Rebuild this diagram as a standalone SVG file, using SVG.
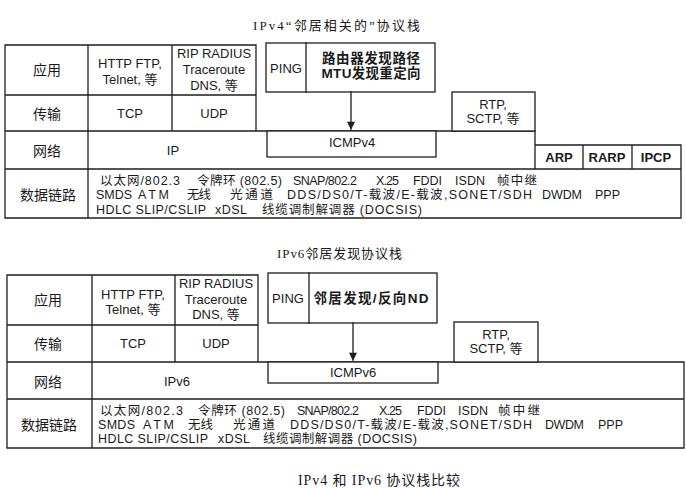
<svg xmlns="http://www.w3.org/2000/svg" width="686" height="488" viewBox="0 0 686 488">
<defs>
<style>
.ln{stroke:#1e1e1e;stroke-width:1.3;fill:none;stroke-linecap:square}
.bx{stroke:#1e1e1e;stroke-width:1.3;fill:#fff}
text{font-family:"Liberation Sans","Noto Sans CJK SC",sans-serif;fill:#1a1a1a;dominant-baseline:central}
.c{text-anchor:middle}
.t{font-size:13px}
.s{font-size:12.5px}
.lb{font-size:14px;text-anchor:middle}
.b{font-weight:bold;font-size:13.5px;text-anchor:middle}
.ttl{font-family:"Liberation Serif","Noto Sans CJK SC",serif;font-size:13px}
.cap{font-family:"Liberation Serif","Noto Sans CJK SC",serif;font-size:14px}
</style>
<marker id="ah" viewBox="0 0 10 10" refX="9" refY="5" markerWidth="10" markerHeight="8" orient="auto" markerUnits="userSpaceOnUse">
<path d="M0,0 L10,5 L0,10 z" fill="#1e1e1e"/>
</marker>
</defs>
<rect width="686" height="488" fill="#fff"/>

<!-- ================= TOP: IPv4 ================= -->
<text id="title1" class="ttl" x="253" y="25" textLength="167" lengthAdjust="spacing">IPv4“邻居相关的”协议栈</text>

<g id="v4-grid">
<path class="ln" d="M5,45 H256 M5,95 H256 M5,131 H535 M5,169 H681 M5,218 H681 M5,45 V218 M88,45 V218 M172,45 V131 M256,45 V131 M535,131 V169 M535,145 H681 M583,145 V169 M632,145 V169 M681,145 V218"/>
</g>
<g id="v4-labels">
<text class="lb" x="47" y="70">应用</text>
<text class="lb" x="47" y="114">传输</text>
<text class="lb" x="47" y="151">网络</text>
<text class="lb" x="48" y="195">数据链路</text>
</g>
<g id="v4-http"><text class="t c" x="130" y="63">HTTP FTP,</text><text class="t c" x="130" y="79">Telnet, 等</text></g>
<g id="v4-rip"><text class="t c" x="214" y="53">RIP RADIUS</text><text class="t c" x="214" y="69">Traceroute</text><text class="t c" x="214" y="85">DNS, 等</text></g>
<g id="v4-tcp"><text class="t c" x="130" y="113">TCP</text></g>
<g id="v4-udp"><text class="t c" x="214" y="113">UDP</text></g>
<g id="v4-ip"><text class="t c" x="173" y="150">IP</text></g>
<g id="v4-ping">
<rect class="bx" x="266" y="43" width="169" height="49"/>
<path class="ln" d="M306,43 V92"/>
<text class="t c" x="286" y="68">PING</text>
<text class="b" x="371" y="58.5" textLength="98" lengthAdjust="spacing">路由器发现路径</text>
<text class="b" x="371" y="73.5" textLength="99" lengthAdjust="spacing">MTU发现重定向</text>
</g>
<g id="v4-icmp">
<rect class="bx" x="267" y="131" width="169" height="26"/>
<text class="t c" x="352" y="142">ICMPv4</text>
</g>
<g id="v4-rtp">
<rect class="bx" x="452" y="92" width="83" height="39"/>
<text class="t c" x="493" y="104">RTP,</text>
<text class="t c" x="493" y="118">SCTP, 等</text>
</g>
<g id="v4-arp"><text class="t c" x="559" y="157" font-weight="bold" font-size="12">ARP</text></g>
<g id="v4-rarp"><text class="t c" x="607" y="157" font-weight="bold" font-size="12">RARP</text></g>
<g id="v4-ipcp"><text class="t c" x="656" y="157" font-weight="bold" font-size="12">IPCP</text></g>
<g id="v4-link">
<text class="s" x="100" y="181" textLength="80" lengthAdjust="spacing">以太网/802.3</text>
<text class="s" x="197" y="181" textLength="85" lengthAdjust="spacing">令牌环 (802.5)</text>
<text class="s" x="293" y="181" textLength="64" lengthAdjust="spacing">SNAP/802.2</text>
<text class="s" x="376" y="181" textLength="23" lengthAdjust="spacing">X.25</text>
<text class="s" x="413" y="181" textLength="29" lengthAdjust="spacing">FDDI</text>
<text class="s" x="455" y="181" textLength="30" lengthAdjust="spacing">ISDN</text>
<text class="s" x="497" y="181" textLength="40" lengthAdjust="spacing">帧中继</text>
<text class="s" x="96" y="195" textLength="36" lengthAdjust="spacing">SMDS</text>
<text class="s" x="138" y="195" textLength="31" lengthAdjust="spacing">ATM</text>
<text class="s" x="187" y="195" textLength="24" lengthAdjust="spacing">无线</text>
<text class="s" x="230" y="195" textLength="43" lengthAdjust="spacing">光通道</text>
<text class="s" x="287" y="195" textLength="245" lengthAdjust="spacing">DDS/DS0/T-载波/E-载波,SONET/SDH</text>
<text class="s" x="542" y="195" textLength="40" lengthAdjust="spacing">DWDM</text>
<text class="s" x="595" y="195" textLength="25" lengthAdjust="spacing">PPP</text>
<text class="s" x="96" y="210" textLength="110" lengthAdjust="spacing">HDLC SLIP/CSLIP</text>
<text class="s" x="215" y="210" textLength="32" lengthAdjust="spacing">xDSL</text>
<text class="s" x="262" y="210" textLength="160" lengthAdjust="spacing">线缆调制解调器 (DOCSIS)</text>
</g>

<!-- ================= BOTTOM: IPv6 ================= -->
<text id="title2" class="ttl" x="277" y="253" textLength="125" lengthAdjust="spacing">IPv6邻居发现协议栈</text>

<g id="v6-grid">
<path class="ln" d="M7,275 H258 M7,325 H258 M7,362 H684 M7,399 H684 M7,448 H684 M7,275 V448 M92,275 V448 M175,275 V362 M258,275 V362 M684,362 V448"/>
</g>
<g id="v6-labels">
<text class="lb" x="48" y="300">应用</text>
<text class="lb" x="48" y="344">传输</text>
<text class="lb" x="48" y="382">网络</text>
<text class="lb" x="49" y="425">数据链路</text>
</g>
<g id="v6-http"><text class="t c" x="133" y="294">HTTP FTP,</text><text class="t c" x="133" y="309">Telnet, 等</text></g>
<g id="v6-rip"><text class="t c" x="216" y="283">RIP RADIUS</text><text class="t c" x="216" y="299">Traceroute</text><text class="t c" x="216" y="314">DNS, 等</text></g>
<g id="v6-tcp"><text class="t c" x="133" y="343">TCP</text></g>
<g id="v6-udp"><text class="t c" x="216" y="343">UDP</text></g>
<g id="v6-ip"><text class="t c" x="177" y="381">IPv6</text></g>
<g id="v6-ping">
<rect class="bx" x="268" y="273" width="169" height="50"/>
<path class="ln" d="M309,273 V323"/>
<text class="t c" x="288" y="298">PING</text>
<text class="b" x="371" y="298" textLength="115" lengthAdjust="spacing">邻居发现/反向ND</text>
</g>
<g id="v6-icmp">
<rect class="bx" x="268" y="362" width="170" height="21"/>
<text class="t c" x="353" y="372">ICMPv6</text>
</g>
<g id="v6-rtp">
<rect class="bx" x="454" y="322" width="84" height="40"/>
<text class="t c" x="496" y="334">RTP,</text>
<text class="t c" x="496" y="348">SCTP, 等</text>
</g>
<g id="v6-link">
<text class="s" x="100" y="411" textLength="83" lengthAdjust="spacing">以太网/802.3</text>
<text class="s" x="198" y="411" textLength="87" lengthAdjust="spacing">令牌环 (802.5)</text>
<text class="s" x="297" y="411" textLength="62" lengthAdjust="spacing">SNAP/802.2</text>
<text class="s" x="379" y="411" textLength="23" lengthAdjust="spacing">X.25</text>
<text class="s" x="417" y="411" textLength="29" lengthAdjust="spacing">FDDI</text>
<text class="s" x="458" y="411" textLength="30" lengthAdjust="spacing">ISDN</text>
<text class="s" x="498" y="411" textLength="42" lengthAdjust="spacing">帧中继</text>
<text class="s" x="98" y="425" textLength="37" lengthAdjust="spacing">SMDS</text>
<text class="s" x="143" y="425" textLength="31" lengthAdjust="spacing">ATM</text>
<text class="s" x="188" y="425" textLength="25" lengthAdjust="spacing">无线</text>
<text class="s" x="233" y="425" textLength="42" lengthAdjust="spacing">光通道</text>
<text class="s" x="290" y="425" textLength="242" lengthAdjust="spacing">DDS/DS0/T-载波/E-载波,SONET/SDH</text>
<text class="s" x="545" y="425" textLength="39" lengthAdjust="spacing">DWDM</text>
<text class="s" x="598" y="425" textLength="25" lengthAdjust="spacing">PPP</text>
<text class="s" x="98" y="439" textLength="110" lengthAdjust="spacing">HDLC SLIP/CSLIP</text>
<text class="s" x="218" y="439" textLength="32" lengthAdjust="spacing">xDSL</text>
<text class="s" x="263" y="439" textLength="154" lengthAdjust="spacing">线缆调制解调器 (DOCSIS)</text>
</g>

<g id="connectors">
<line class="ln" x1="351" y1="92" x2="351" y2="129" marker-end="url(#ah)"/>
<line class="ln" x1="353" y1="323" x2="353" y2="360" marker-end="url(#ah)"/>
</g>

<text id="caption" class="cap" x="298" y="480" textLength="162" lengthAdjust="spacing">IPv4 和 IPv6 协议栈比较</text>
</svg>
